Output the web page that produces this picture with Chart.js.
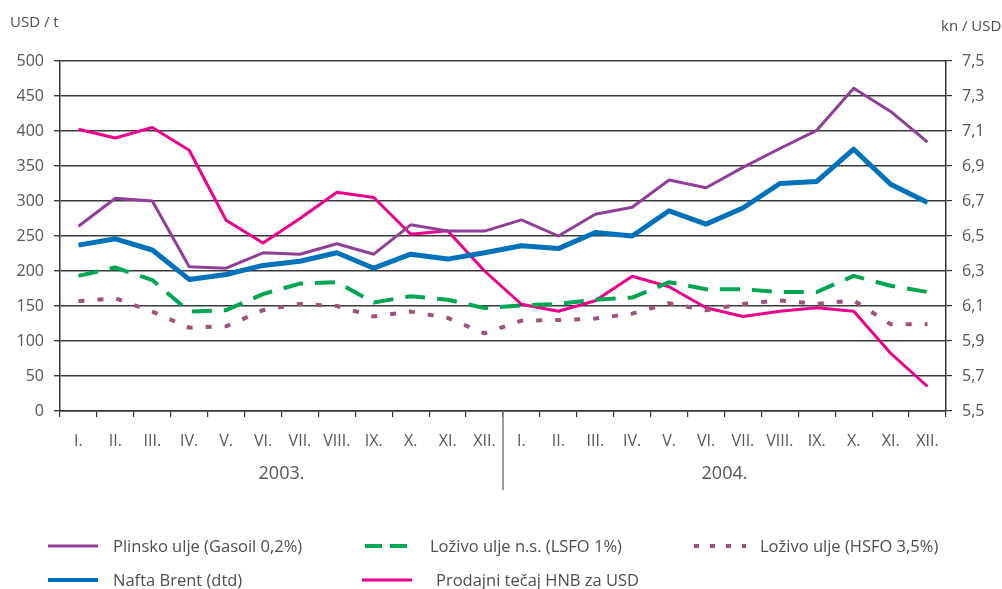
<!DOCTYPE html>
<html><head><meta charset="utf-8">
<script src="https://cdn.jsdelivr.net/npm/chart.js@4"></script>
<style>
body{margin:0;background:#fff;width:1002px;height:589px;overflow:hidden;font-family:"Open Sans",sans-serif;color:#4d4d4d}
#wrap{position:relative;width:1002px;height:589px}
canvas{position:absolute;left:0;top:0}
.t{position:absolute;font-size:15px;white-space:nowrap;line-height:18px}
.lg{position:absolute;font-size:16.5px;white-space:nowrap;line-height:18px;display:flex;align-items:center}
</style></head><body>
<div id="wrap">
<canvas id="c" width="1002" height="589"></canvas>
<div class="t" style="left:10px;top:12px">USD / t</div>
<div class="t" style="left:941px;top:16px">kn / USD</div>
<div class="lg" style="left:48px;top:537px"><svg width="50" height="8" style="margin-right:15px"><line x1="0" y1="4" x2="50" y2="4" stroke="#8f3f97" stroke-width="3"/></svg>Plinsko ulje (Gasoil 0,2%)</div>
<div class="lg" style="left:365px;top:537px"><svg width="44" height="8" style="margin-right:21px"><line x1="0" y1="4" x2="44" y2="4" stroke="#00a651" stroke-width="4" stroke-dasharray="17,8"/></svg>Loživo ulje n.s. (LSFO 1%)</div>
<div class="lg" style="left:694px;top:537px"><svg width="52" height="8" style="margin-right:14px"><line x1="0" y1="4" x2="52" y2="4" stroke="#a0527e" stroke-width="4" stroke-dasharray="5,11"/></svg>Loživo ulje (HSFO 3,5%)</div>
<div class="lg" style="left:48px;top:571px"><svg width="50" height="8" style="margin-right:15px"><line x1="0" y1="4" x2="50" y2="4" stroke="#0072bc" stroke-width="4"/></svg>Nafta Brent (dtd)</div>
<div class="lg" style="left:362px;top:571px"><svg width="50" height="8" style="margin-right:24px"><line x1="0" y1="4" x2="50" y2="4" stroke="#ec008c" stroke-width="3"/></svg>Prodajni tečaj HNB za USD</div>
</div>
<script>
const months = ['I.','II.','III.','IV.','V.','VI.','VII.','VIII.','IX.','X.','XI.','XII.','I.','II.','III.','IV.','V.','VI.','VII.','VIII.','IX.','X.','XI.','XII.'];
const years = ['2003.','2004.'];
const gasoil = [264,304,300,206,204,226,224,239,224,266,257,257,273,250,281,291,330,319,348,375,401,461,428,384];
const brent  = [237,246,230,188,195,208,214,226,204,224,217,226,236,232,255,250,286,267,290,325,328,374,324,298];
const lsfo   = [193,205,187,142,144,167,182,184,155,164,159,147,151,153,159,162,184,174,174,170,170,193,179,170];
const hsfo   = [157,161,142,119,121,144,153,150,135,142,133,111,129,130,132,139,154,144,153,158,153,158,124,124];
const knUsd  = [7.11,7.06,7.12,6.99,6.59,6.46,6.60,6.75,6.72,6.51,6.53,6.30,6.11,6.07,6.13,6.27,6.21,6.09,6.04,6.07,6.09,6.07,5.83,5.64];
const leftTicks = [0,50,100,150,200,250,300,350,400,450,500];
const rightTicks = [5.5,5.7,5.9,6.1,6.3,6.5,6.7,6.9,7.1,7.3,7.5];

const tickFont = {family:'"Open Sans", sans-serif', size:16};
const tickColor = '#555';

const yearPlugin = {
  id:'years',
  afterDraw(chart){
    const ctx = chart.ctx, x = chart.scales.x, area = chart.chartArea;
    const half = months.length/years.length;
    ctx.save();
    ctx.font = '18px "Open Sans", sans-serif';
    ctx.fillStyle = tickColor;
    ctx.textAlign = 'center';
    ctx.textBaseline = 'middle';
    years.forEach((yr,i)=>{
      const a = x.getPixelForValue(i*half), b = x.getPixelForValue(i*half+half-1);
      ctx.fillText(yr,(a+b)/2,474);
    });
    for(let i=1;i<years.length;i++){
      const px = (x.getPixelForValue(i*half-1)+x.getPixelForValue(i*half))/2;
      ctx.strokeStyle = '#7a7a7a';
      ctx.lineWidth = 1.5;
      ctx.beginPath();
      ctx.moveTo(px, area.bottom);
      ctx.lineTo(px, 490);
      ctx.stroke();
    }
    ctx.restore();
  }
};

const ds = (label,data,color,w,dash,axis)=>({label,data,borderColor:color,backgroundColor:color,borderWidth:w,borderDash:dash||[],pointRadius:0,tension:0,fill:false,yAxisID:axis||'y',borderCapStyle:'butt',borderJoinStyle:'round'});

new Chart(document.getElementById('c'),{
  type:'line',
  data:{
    labels:months,
    datasets:[
      ds('Loživo ulje (HSFO 3,5%)',hsfo,'#a0527e',4,[6,13]),
      ds('Loživo ulje n.s. (LSFO 1%)',lsfo,'#00a651',4,[20,12]),
      ds('Plinsko ulje (Gasoil 0,2%)',gasoil,'#8f3f97',3),
      ds('Nafta Brent (dtd)',brent,'#0072bc',5),
      ds('Prodajni tečaj HNB za USD',knUsd,'#ec008c',3,null,'y1')
    ]
  },
  options:{
    responsive:false,animation:false,devicePixelRatio:1,
    layout:{padding:{top:61,left:0,right:0,bottom:0}},
    plugins:{legend:{display:false},tooltip:{enabled:false}},
    scales:{
      x:{
        offset:true,
        grid:{display:true,drawOnChartArea:false,offset:true,tickLength:6,color:'#333',lineWidth:1.2},
        border:{display:true,color:'#333',width:1.5},
        ticks:{font:tickFont,color:tickColor,padding:15,autoSkip:false,maxRotation:0},
        afterFit(s){s.height=178;}
      },
      y:{
        position:'left',min:0,max:500,
        afterBuildTicks(s){s.ticks=leftTicks.map(v=>({value:v}));},
        grid:{color:'#3a3a3a',lineWidth:1.4,tickLength:6},
        border:{display:true,color:'#333',width:1.5},
        ticks:{font:tickFont,color:tickColor,padding:10},
        afterFit(s){s.width=60;}
      },
      y1:{
        position:'right',min:5.5,max:7.5,
        afterBuildTicks(s){s.ticks=rightTicks.map(v=>({value:v}));},
        grid:{drawOnChartArea:false,color:'#333',lineWidth:1.2,tickLength:6},
        border:{display:true,color:'#333',width:1.5},
        ticks:{font:tickFont,color:tickColor,padding:10,callback:v=>Number(v).toFixed(1).replace('.',',')},
        afterFit(s){s.width=56;}
      }
    }
  },
  plugins:[yearPlugin]
});
</script>
</body></html>
